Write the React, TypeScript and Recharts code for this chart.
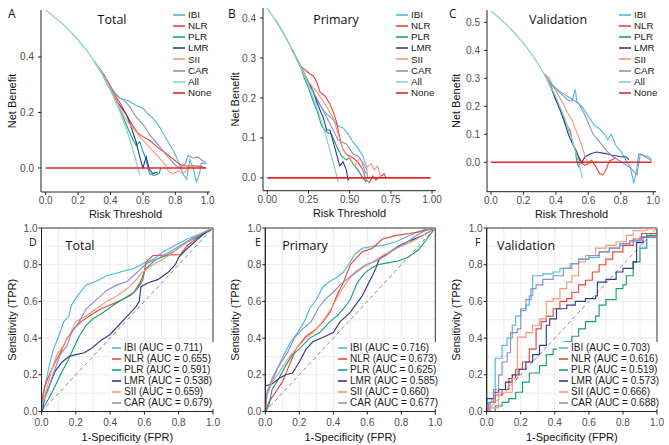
import React from 'react';
import { LineChart, Line, XAxis, YAxis, CartesianGrid, Label, ReferenceArea } from 'recharts';

type Pt = [number, number];

const SANS = 'Arial, "Liberation Sans", sans-serif';
const TITLE_FONT = '"Open Sans", "Noto Sans", sans-serif';

const MODELS = ['IBI', 'NLR', 'PLR', 'LMR', 'SII', 'CAR'];
const COLORS: Record<string, string> = {
  IBI: '#4DB9DE',
  NLR: '#EE4433',
  PLR: '#16A07E',
  LMR: '#2C3D8F',
  SII: '#F79677',
  CAR: '#8B90C6',
  All: '#8AD4C4',
  None: '#E8252A',
};

// ---- decision curves: [threshold, net benefit] ----
const ALL_A: Pt[] = [[0, 0.569], [0.05, 0.546], [0.1, 0.521], [0.15, 0.493], [0.2, 0.461], [0.25, 0.425], [0.3, 0.384], [0.35, 0.337], [0.4, 0.282], [0.45, 0.216], [0.5, 0.138], [0.55, 0.042], [0.58, -0.026]];
const IBI_A: Pt[] = [[0.3, 0.384], [0.35, 0.34], [0.4, 0.29], [0.43, 0.27], [0.46, 0.25], [0.5, 0.245], [0.53, 0.235], [0.56, 0.225], [0.6, 0.215], [0.63, 0.195], [0.66, 0.18], [0.7, 0.15], [0.73, 0.12], [0.76, 0.09], [0.79, 0.06], [0.81, 0.035], [0.83, 0.005], [0.85, -0.025], [0.87, -0.04], [0.89, 0.03], [0.91, 0.0], [0.93, -0.05], [0.95, -0.02], [0.96, 0.018], [0.99, 0.015]];
const NLR_A: Pt[] = [[0.3, 0.384], [0.35, 0.345], [0.4, 0.295], [0.43, 0.26], [0.46, 0.233], [0.5, 0.19], [0.54, 0.15], [0.57, 0.125], [0.6, 0.113], [0.64, 0.1], [0.67, 0.085], [0.7, 0.07], [0.75, 0.05], [0.79, 0.03], [0.83, 0.012], [0.87, 0.006], [0.92, 0.008], [0.96, 0.005], [0.99, 0.0]];
const PLR_A: Pt[] = [[0.35, 0.337], [0.4, 0.282], [0.44, 0.23], [0.48, 0.18], [0.51, 0.14], [0.54, 0.1], [0.56, 0.08], [0.58, 0.095], [0.6, 0.06], [0.62, 0.03], [0.64, -0.02], [0.67, -0.027], [0.7, -0.02], [0.71, 0.0]];
const LMR_A: Pt[] = [[0.35, 0.337], [0.4, 0.285], [0.44, 0.24], [0.47, 0.215], [0.5, 0.19], [0.52, 0.16], [0.54, 0.125], [0.56, 0.09], [0.58, 0.04], [0.6, 0.0], [0.62, 0.04], [0.64, -0.005], [0.66, -0.02], [0.69, -0.015]];
const SII_A: Pt[] = [[0.3, 0.384], [0.35, 0.34], [0.4, 0.29], [0.44, 0.24], [0.48, 0.19], [0.52, 0.155], [0.56, 0.13], [0.6, 0.1], [0.64, 0.075], [0.68, 0.05], [0.71, 0.03], [0.74, 0.01], [0.76, -0.015], [0.79, -0.02], [0.82, -0.01], [0.85, -0.02], [0.88, 0.0], [0.91, 0.005]];
const CAR_A: Pt[] = [[0.3, 0.384], [0.35, 0.34], [0.4, 0.28], [0.45, 0.255], [0.49, 0.24], [0.52, 0.22], [0.55, 0.19], [0.58, 0.17], [0.61, 0.15], [0.64, 0.12], [0.67, 0.1], [0.7, 0.08], [0.74, 0.05], [0.77, 0.03], [0.8, 0.01], [0.83, 0.0], [0.86, 0.015], [0.88, 0.045], [0.91, 0.035], [0.94, 0.04], [0.97, 0.025], [0.99, 0.02]];

const ALL_B: Pt[] = [[0, 0.424], [0.05, 0.394], [0.1, 0.36], [0.15, 0.322], [0.2, 0.28], [0.25, 0.232], [0.3, 0.177], [0.35, 0.114], [0.4, 0.04], [0.43, -0.01]];
const IBI_B: Pt[] = [[0.15, 0.322], [0.2, 0.28], [0.25, 0.24], [0.3, 0.195], [0.33, 0.175], [0.36, 0.16], [0.4, 0.145], [0.43, 0.13], [0.46, 0.125], [0.49, 0.11], [0.52, 0.09], [0.55, 0.075], [0.58, 0.055], [0.6, 0.03], [0.61, 0.0]];
const NLR_B: Pt[] = [[0.15, 0.322], [0.2, 0.28], [0.23, 0.27], [0.26, 0.26], [0.28, 0.255], [0.3, 0.24], [0.32, 0.215], [0.35, 0.205], [0.38, 0.185], [0.4, 0.165], [0.42, 0.14], [0.44, 0.1], [0.46, 0.07], [0.48, 0.06], [0.52, 0.05], [0.55, 0.04], [0.58, 0.02], [0.6, -0.005], [0.62, -0.012], [0.64, 0.005], [0.66, -0.005], [0.69, 0.005], [0.71, 0.01], [0.72, 0.0]];
const PLR_B: Pt[] = [[0.15, 0.322], [0.2, 0.28], [0.22, 0.255], [0.25, 0.225], [0.28, 0.19], [0.3, 0.17], [0.33, 0.13], [0.36, 0.115], [0.39, 0.11], [0.42, 0.08], [0.45, 0.055], [0.48, 0.045], [0.5, 0.05], [0.52, 0.035], [0.55, 0.02], [0.58, 0.0], [0.6, -0.01]];
const LMR_B: Pt[] = [[0.15, 0.322], [0.2, 0.28], [0.25, 0.24], [0.28, 0.215], [0.3, 0.19], [0.32, 0.17], [0.34, 0.15], [0.36, 0.12], [0.38, 0.12], [0.4, 0.09], [0.42, 0.06], [0.44, 0.03], [0.46, 0.04], [0.48, 0.02], [0.49, -0.005], [0.5, 0.0]];
const SII_B: Pt[] = [[0.15, 0.322], [0.2, 0.28], [0.25, 0.24], [0.3, 0.215], [0.35, 0.185], [0.4, 0.15], [0.43, 0.11], [0.46, 0.07], [0.5, 0.05], [0.53, 0.03], [0.56, 0.05], [0.6, 0.025], [0.63, 0.035], [0.65, 0.02], [0.67, 0.03], [0.69, 0.0]];
const CAR_B: Pt[] = [[0.05, 0.396], [0.1, 0.362], [0.15, 0.322], [0.2, 0.28], [0.25, 0.235], [0.3, 0.2], [0.35, 0.16], [0.4, 0.12], [0.43, 0.095], [0.45, 0.09], [0.48, 0.085], [0.52, 0.06], [0.55, 0.055], [0.57, 0.045], [0.59, 0.02], [0.6, 0.01]];

const ALL_C: Pt[] = [[0, 0.54], [0.05, 0.516], [0.1, 0.489], [0.15, 0.459], [0.2, 0.425], [0.25, 0.387], [0.3, 0.343], [0.35, 0.292], [0.4, 0.233], [0.45, 0.164], [0.5, 0.08], [0.53, 0.021], [0.565, -0.058]];
const IBI_C: Pt[] = [[0.33, 0.315], [0.38, 0.27], [0.42, 0.25], [0.45, 0.235], [0.48, 0.22], [0.5, 0.22], [0.52, 0.26], [0.53, 0.215], [0.56, 0.2], [0.6, 0.165], [0.64, 0.13], [0.67, 0.12], [0.7, 0.1], [0.72, 0.08], [0.74, 0.1], [0.77, 0.06], [0.8, 0.04], [0.83, 0.01], [0.86, -0.02], [0.88, -0.075], [0.9, -0.02], [0.91, 0.03], [0.94, 0.025], [0.97, 0.02], [0.99, 0.01]];
const NLR_C: Pt[] = [[0.33, 0.315], [0.37, 0.27], [0.4, 0.22], [0.43, 0.19], [0.46, 0.14], [0.49, 0.11], [0.5, 0.075], [0.53, 0.035], [0.55, 0.0], [0.58, -0.01], [0.6, -0.005], [0.62, 0.008], [0.65, -0.02], [0.67, -0.04], [0.69, -0.045], [0.71, -0.025], [0.73, 0.005], [0.75, 0.01], [0.77, 0.015]];
const PLR_C: Pt[] = [[0.35, 0.292], [0.4, 0.225], [0.44, 0.17], [0.47, 0.13], [0.5, 0.08], [0.52, 0.04], [0.53, 0.0], [0.54, -0.015], [0.55, 0.0]];
const LMR_C: Pt[] = [[0.33, 0.315], [0.37, 0.27], [0.4, 0.225], [0.43, 0.18], [0.46, 0.13], [0.48, 0.095], [0.5, 0.07], [0.52, 0.045], [0.54, 0.02], [0.56, 0.0], [0.58, 0.02], [0.61, 0.03], [0.65, 0.037], [0.7, 0.032], [0.75, 0.025], [0.8, 0.02], [0.83, 0.02], [0.85, 0.01]];
const SII_C: Pt[] = [[0.33, 0.315], [0.36, 0.3], [0.4, 0.255], [0.44, 0.215], [0.47, 0.18], [0.5, 0.15], [0.53, 0.105], [0.56, 0.06], [0.58, 0.02], [0.6, -0.005], [0.62, 0.0]];
const CAR_C: Pt[] = [[0.33, 0.315], [0.37, 0.28], [0.42, 0.255], [0.46, 0.24], [0.5, 0.225], [0.54, 0.21], [0.57, 0.18], [0.6, 0.14], [0.63, 0.1], [0.66, 0.08], [0.7, 0.05], [0.74, 0.025], [0.78, 0.01], [0.82, -0.005], [0.86, -0.02], [0.9, -0.045], [0.92, 0.03], [0.95, 0.02], [0.99, 0.005]];

const NONE_LINE: Pt[] = [[0, 0], [0.99, 0]];

// ---- ROC curves: [1 - specificity, sensitivity] ----
const D_IBI: Pt[] = [[0, 0], [0.01, 0.09], [0.03, 0.18], [0.05, 0.27], [0.07, 0.34], [0.1, 0.41], [0.13, 0.49], [0.16, 0.52], [0.175, 0.58], [0.21, 0.63], [0.26, 0.69], [0.32, 0.71], [0.38, 0.74], [0.46, 0.76], [0.54, 0.78], [0.59, 0.805], [0.65, 0.83], [0.71, 0.87], [0.77, 0.9], [0.85, 0.94], [0.93, 0.97], [1, 1]];
const D_NLR: Pt[] = [[0, 0], [0, 0.05], [0.02, 0.14], [0.05, 0.21], [0.08, 0.27], [0.11, 0.32], [0.15, 0.4], [0.19, 0.45], [0.23, 0.49], [0.28, 0.52], [0.34, 0.556], [0.4, 0.58], [0.46, 0.605], [0.52, 0.633], [0.56, 0.67], [0.59, 0.715], [0.61, 0.815], [0.65, 0.85], [0.81, 0.855], [0.85, 0.905], [0.93, 0.96], [1, 1]];
const D_PLR: Pt[] = [[0, 0], [0.03, 0.05], [0.07, 0.12], [0.11, 0.2], [0.15, 0.27], [0.185, 0.34], [0.22, 0.41], [0.26, 0.47], [0.3, 0.505], [0.36, 0.54], [0.42, 0.58], [0.48, 0.615], [0.54, 0.65], [0.575, 0.705], [0.61, 0.78], [0.67, 0.83], [0.73, 0.85], [0.77, 0.87], [0.85, 0.925], [0.93, 0.96], [1, 1]];
const D_LMR: Pt[] = [[0, 0], [0.01, 0.03], [0.02, 0.08], [0.05, 0.15], [0.08, 0.22], [0.12, 0.27], [0.16, 0.3], [0.2, 0.31], [0.25, 0.32], [0.3, 0.35], [0.35, 0.39], [0.4, 0.42], [0.45, 0.47], [0.5, 0.52], [0.55, 0.57], [0.57, 0.6], [0.58, 0.68], [0.62, 0.7], [0.68, 0.72], [0.74, 0.76], [0.78, 0.8], [0.8, 0.84], [0.84, 0.88], [0.9, 0.93], [0.95, 0.97], [1, 1]];
const D_SII: Pt[] = [[0, 0], [0, 0.03], [0.03, 0.12], [0.06, 0.23], [0.09, 0.31], [0.13, 0.36], [0.17, 0.43], [0.2, 0.49], [0.26, 0.52], [0.32, 0.56], [0.38, 0.6], [0.44, 0.63], [0.5, 0.67], [0.54, 0.705], [0.59, 0.76], [0.65, 0.8], [0.71, 0.83], [0.77, 0.87], [0.85, 0.925], [0.93, 0.97], [1, 1]];
const D_CAR: Pt[] = [[0, 0], [0.01, 0.05], [0.04, 0.12], [0.07, 0.21], [0.11, 0.31], [0.15, 0.36], [0.175, 0.43], [0.22, 0.49], [0.26, 0.56], [0.32, 0.61], [0.38, 0.66], [0.44, 0.69], [0.5, 0.71], [0.56, 0.76], [0.61, 0.805], [0.67, 0.83], [0.73, 0.86], [0.81, 0.905], [0.89, 0.95], [1, 1]];

const E_IBI: Pt[] = [[0, 0], [0.01, 0.09], [0.04, 0.16], [0.07, 0.23], [0.11, 0.31], [0.15, 0.38], [0.19, 0.43], [0.23, 0.49], [0.26, 0.56], [0.3, 0.61], [0.34, 0.68], [0.38, 0.71], [0.42, 0.73], [0.46, 0.76], [0.5, 0.815], [0.53, 0.86], [0.57, 0.89], [0.63, 0.9], [0.69, 0.905], [0.77, 0.925], [0.85, 0.96], [0.93, 0.99], [1, 1]];
const E_NLR: Pt[] = [[0, 0], [0.02, 0.05], [0.06, 0.105], [0.1, 0.16], [0.14, 0.25], [0.18, 0.34], [0.24, 0.41], [0.3, 0.45], [0.34, 0.49], [0.38, 0.54], [0.42, 0.63], [0.46, 0.705], [0.5, 0.8], [0.53, 0.83], [0.57, 0.87], [0.63, 0.89], [0.69, 0.94], [0.77, 0.96], [0.85, 0.97], [0.91, 0.98], [1, 1]];
const E_PLR: Pt[] = [[0, 0], [0.02, 0.03], [0.04, 0.12], [0.08, 0.18], [0.12, 0.25], [0.16, 0.31], [0.2, 0.34], [0.26, 0.4], [0.32, 0.43], [0.38, 0.49], [0.42, 0.52], [0.46, 0.56], [0.5, 0.61], [0.54, 0.7], [0.58, 0.75], [0.62, 0.78], [0.66, 0.8], [0.72, 0.81], [0.78, 0.82], [0.84, 0.84], [0.9, 0.88], [0.95, 0.94], [1, 1]];
const E_LMR: Pt[] = [[0, 0], [0, 0.14], [0.04, 0.15], [0.08, 0.18], [0.12, 0.2], [0.16, 0.21], [0.2, 0.27], [0.24, 0.34], [0.28, 0.38], [0.34, 0.405], [0.4, 0.43], [0.44, 0.49], [0.5, 0.54], [0.53, 0.58], [0.57, 0.63], [0.61, 0.705], [0.63, 0.74], [0.65, 0.78], [0.67, 0.83], [0.73, 0.87], [0.79, 0.905], [0.85, 0.93], [0.93, 0.96], [1, 1]];
const E_SII: Pt[] = [[0, 0], [0.01, 0.09], [0.04, 0.16], [0.08, 0.21], [0.12, 0.27], [0.16, 0.32], [0.2, 0.36], [0.24, 0.4], [0.28, 0.43], [0.32, 0.47], [0.36, 0.52], [0.4, 0.58], [0.44, 0.65], [0.48, 0.705], [0.51, 0.74], [0.57, 0.78], [0.63, 0.815], [0.69, 0.85], [0.77, 0.89], [0.85, 0.92], [0.93, 0.96], [1, 1]];
const E_CAR: Pt[] = [[0, 0], [0.01, 0.105], [0.04, 0.18], [0.08, 0.25], [0.13, 0.32], [0.17, 0.4], [0.22, 0.45], [0.27, 0.49], [0.31, 0.56], [0.35, 0.61], [0.4, 0.65], [0.44, 0.69], [0.48, 0.72], [0.53, 0.76], [0.59, 0.8], [0.65, 0.82], [0.71, 0.85], [0.77, 0.89], [0.83, 0.92], [0.89, 0.96], [0.95, 0.99], [1, 1]];

const F_IBI: Pt[] = [[0, 0], [0, 0.05], [0.03, 0.07], [0.05, 0.29], [0.08, 0.29], [0.09, 0.36], [0.12, 0.4], [0.15, 0.47], [0.17, 0.52], [0.2, 0.55], [0.23, 0.58], [0.25, 0.63], [0.27, 0.74], [0.33, 0.75], [0.39, 0.76], [0.43, 0.78], [0.49, 0.805], [0.54, 0.83], [0.6, 0.84], [0.66, 0.87], [0.72, 0.89], [0.78, 0.905], [0.84, 0.93], [0.9, 0.95], [0.94, 0.97], [1, 1]];
const F_NLR: Pt[] = [[0, 0], [0.02, 0.05], [0.05, 0.09], [0.09, 0.12], [0.13, 0.18], [0.17, 0.23], [0.21, 0.27], [0.25, 0.34], [0.29, 0.45], [0.32, 0.49], [0.35, 0.52], [0.39, 0.56], [0.43, 0.6], [0.47, 0.615], [0.5, 0.65], [0.54, 0.69], [0.58, 0.715], [0.62, 0.76], [0.66, 0.8], [0.7, 0.83], [0.74, 0.87], [0.8, 0.905], [0.86, 0.94], [0.91, 0.97], [1, 1]];
const F_PLR: Pt[] = [[0, 0], [0.04, 0], [0.05, 0.03], [0.09, 0.05], [0.13, 0.07], [0.17, 0.105], [0.21, 0.16], [0.25, 0.21], [0.31, 0.25], [0.35, 0.31], [0.39, 0.34], [0.45, 0.38], [0.5, 0.41], [0.54, 0.45], [0.58, 0.49], [0.64, 0.52], [0.66, 0.58], [0.7, 0.61], [0.76, 0.67], [0.8, 0.69], [0.82, 0.74], [0.86, 0.815], [0.9, 0.89], [0.94, 0.96], [1, 1]];
const F_LMR: Pt[] = [[0, 0], [0, 0.07], [0.04, 0.105], [0.07, 0.12], [0.11, 0.16], [0.15, 0.2], [0.19, 0.23], [0.23, 0.27], [0.27, 0.31], [0.31, 0.36], [0.35, 0.47], [0.37, 0.505], [0.41, 0.56], [0.47, 0.58], [0.52, 0.6], [0.58, 0.615], [0.64, 0.63], [0.65, 0.705], [0.7, 0.72], [0.76, 0.76], [0.8, 0.78], [0.86, 0.815], [0.88, 0.92], [0.92, 0.95], [1, 1]];
const F_SII: Pt[] = [[0, 0], [0.02, 0.02], [0.07, 0.105], [0.15, 0.18], [0.18, 0.405], [0.23, 0.43], [0.27, 0.47], [0.31, 0.505], [0.35, 0.6], [0.39, 0.615], [0.43, 0.67], [0.47, 0.705], [0.5, 0.74], [0.54, 0.815], [0.58, 0.85], [0.64, 0.89], [0.7, 0.905], [0.76, 0.925], [0.82, 0.96], [0.86, 0.985], [0.94, 0.995], [1, 1]];
const F_CAR: Pt[] = [[0, 0], [0.01, 0.05], [0.04, 0.12], [0.07, 0.2], [0.09, 0.27], [0.12, 0.32], [0.14, 0.43], [0.18, 0.45], [0.2, 0.56], [0.23, 0.61], [0.26, 0.67], [0.29, 0.69], [0.33, 0.72], [0.39, 0.74], [0.45, 0.78], [0.5, 0.805], [0.54, 0.83], [0.6, 0.85], [0.66, 0.87], [0.72, 0.89], [0.78, 0.915], [0.84, 0.93], [0.92, 0.95], [1, 1]];

const DIAGONAL: Pt[] = [[0, 0], [1, 1]];

const AUC_TOTAL = [0.711, 0.655, 0.591, 0.538, 0.659, 0.679];
const AUC_PRIMARY = [0.716, 0.673, 0.625, 0.585, 0.66, 0.677];
const AUC_VALID = [0.703, 0.616, 0.519, 0.573, 0.666, 0.688];

const TICKS_TENTHS = [0, 0.2, 0.4, 0.6, 0.8, 1];
const TICKS_QUARTERS = [0, 0.25, 0.5, 0.75, 1];
const Y_TICKS_A = [0, 0.2, 0.4];
const Y_TICKS_B = [0, 0.1, 0.2, 0.3, 0.4];
const Y_TICKS_C = [0, 0.1, 0.2, 0.3, 0.4, 0.5];
const ROC_MINOR = [0.1, 0.2, 0.3, 0.4, 0.5, 0.6, 0.7, 0.8, 0.9];

const pts = (arr: Pt[]) => arr.map(([x, y]) => ({ x, y }));

const TICK = { fontSize: 10, fill: '#4D4D4D', fontFamily: SANS };
const AXIS_LINE = { stroke: '#222', strokeWidth: 1 };

interface Curve { name: string; data: Pt[]; color: string; width: number }
interface Rect { l: number; t: number; r: number; b: number }

function dcaCurves(models: Pt[][], all: Pt[]): Curve[] {
  const list: Curve[] = models.map((d, i) => ({ name: MODELS[i], data: d, color: COLORS[MODELS[i]], width: 1.1 }));
  list.push({ name: 'All', data: all, color: COLORS.All, width: 1.3 });
  list.push({ name: 'None', data: NONE_LINE, color: COLORS.None, width: 1.6 });
  return list;
}

function rocCurves(models: Pt[][], aucs: number[]): Curve[] {
  return models.map((d, i) => ({
    name: `${MODELS[i]} (AUC = ${aucs[i].toFixed(3)})`,
    data: d,
    color: COLORS[MODELS[i]],
    width: 1.15,
  }));
}

function LegendBox({ left, top, items, swatch, step, fontSize, bg }: {
  left: number; top: number; items: Curve[]; swatch: number; step: number; fontSize: number; bg?: boolean;
}) {
  return (
    <div style={{
      position: 'absolute', left, top, background: bg ? '#fff' : 'transparent',
      padding: bg ? '1px 2px' : 0, fontFamily: SANS, fontSize, color: '#1a1a1a', lineHeight: 1,
    }}>
      {items.map((c) => (
        <div key={c.name} style={{ display: 'flex', alignItems: 'center', height: step, whiteSpace: 'nowrap' }}>
          <svg width={swatch} height={4} style={{ marginRight: 3 }}>
            <line x1={0} y1={2} x2={swatch} y2={2} stroke={c.color} strokeWidth={1.6} />
          </svg>
          <span>{c.name}</span>
        </div>
      ))}
    </div>
  );
}

function Caption({ x, y, text, size, center }: { x: number; y: number; text: string; size: number; center?: boolean }) {
  return (
    <div style={{
      position: 'absolute', left: x, top: y, transform: center ? 'translate(-50%, -50%)' : 'translate(0, -50%)',
      fontFamily: TITLE_FONT, fontSize: size, color: '#111', whiteSpace: 'nowrap', lineHeight: 1,
    }}>{text}</div>
  );
}

function DcaPanel({ x, y, plot, xDomain, yDomain, xTicks, yTicks, xDigits, yDigits, curves, title, titleX, letter, letterX, yLabelX }: {
  x: number; y: number; plot: Rect; xDomain: [number, number]; yDomain: [number, number];
  xTicks: number[]; yTicks: number[]; xDigits: number; yDigits: number; curves: Curve[];
  title: string; titleX: number; letter: string; letterX: number; yLabelX: number;
}) {
  const W = 223, H = 222, YW = 30, XH = 26;
  const margin = { top: plot.t, right: W - plot.r, left: plot.l - YW, bottom: H - plot.b - XH };
  return (
    <div style={{ position: 'absolute', left: x, top: y, width: W, height: H }}>
      <LineChart width={W} height={H} margin={margin}>
        <XAxis type="number" dataKey="x" domain={xDomain} ticks={xTicks} allowDataOverflow interval={0} height={XH}
          tickFormatter={(v: number) => v.toFixed(xDigits)} tick={TICK} tickSize={3} tickLine={AXIS_LINE} axisLine={AXIS_LINE}>
          <Label value="Risk Threshold" position="insideBottom" offset={0} fontSize={11} fill="#111" fontFamily={SANS} />
        </XAxis>
        <YAxis type="number" domain={yDomain} ticks={yTicks} allowDataOverflow interval={0} width={YW} tickMargin={4}
          tickFormatter={(v: number) => v.toFixed(yDigits)} tick={TICK} tickSize={3} tickLine={AXIS_LINE} axisLine={AXIS_LINE}>
          <Label value="Net Benefit" angle={-90} position="insideLeft" offset={yLabelX - (plot.l - YW)}
            fontSize={11} fill="#111" fontFamily={SANS} style={{ textAnchor: 'middle' }} />
        </YAxis>
        {curves.map((c) => (
          <Line key={c.name} data={pts(c.data)} dataKey="y" type="linear" stroke={c.color} strokeWidth={c.width}
            dot={false} activeDot={false} isAnimationActive={false} />
        ))}
      </LineChart>
      <Caption x={titleX} y={20} text={title} size={12.5} center />
      <Caption x={letterX} y={14} text={letter} size={12} />
      <LegendBox left={173} top={9.5} items={curves} swatch={12} step={11.1} fontSize={9.8} />
    </div>
  );
}

function RocPanel({ x, y, plot, curves, title, titleX, letter, letterX, legendX, yLabelX, stepped }: {
  x: number; y: number; plot: Rect; curves: Curve[]; title: string; titleX: number;
  letter: string; letterX: number; legendX: number; yLabelX: number; stepped?: boolean;
}) {
  const W = 223, H = 223, YW = 30, XH = 29;
  const margin = { top: plot.t, right: W - plot.r, left: plot.l - YW, bottom: H - plot.b - XH };
  return (
    <div style={{ position: 'absolute', left: x, top: y, width: W, height: H }}>
      <LineChart width={W} height={H} margin={margin}>
        <CartesianGrid stroke="#E6E6E6" strokeWidth={0.8}
          verticalCoordinatesGenerator={({ offset }: any) => ROC_MINOR.map((v) => offset.left + v * offset.width)}
          horizontalCoordinatesGenerator={({ offset }: any) => ROC_MINOR.map((v) => offset.top + (1 - v) * offset.height)} />
        <XAxis type="number" dataKey="x" domain={[0, 1]} ticks={TICKS_TENTHS} allowDataOverflow interval={0} height={XH}
          tickFormatter={(v: number) => v.toFixed(1)} tick={TICK} tickSize={3} tickMargin={4} tickLine={AXIS_LINE} axisLine={AXIS_LINE}>
          <Label value="1-Specificity (FPR)" position="insideBottom" offset={0} fontSize={11} fill="#111" fontFamily={SANS} />
        </XAxis>
        <YAxis type="number" domain={[0, 1]} ticks={TICKS_TENTHS} allowDataOverflow interval={0} width={YW} tickMargin={1}
          tickFormatter={(v: number) => v.toFixed(1)} tick={TICK} tickSize={3} tickLine={AXIS_LINE} axisLine={AXIS_LINE}>
          <Label value="Sensitivity (TPR)" angle={-90} position="insideLeft" offset={yLabelX - (plot.l - YW)}
            fontSize={11} fill="#111" fontFamily={SANS} style={{ textAnchor: 'middle' }} />
        </YAxis>
        <ReferenceArea x1={0} x2={1} y1={0} y2={1} fill="none" fillOpacity={0} stroke="#333" strokeWidth={1} />
        <Line data={pts(DIAGONAL)} dataKey="y" type="linear" stroke="#8A8A8A" strokeWidth={1} strokeDasharray="4 3"
          dot={false} activeDot={false} isAnimationActive={false} legendType="none" />
        {curves.map((c) => (
          <Line key={c.name} data={pts(c.data)} dataKey="y" type={stepped ? 'stepAfter' : 'linear'} stroke={c.color}
            strokeWidth={c.width} dot={false} activeDot={false} isAnimationActive={false} />
        ))}
      </LineChart>
      <Caption x={titleX} y={24} text={title} size={12.5} center />
      <Caption x={letterX} y={19.5} text={letter} size={10.5} />
      <LegendBox left={legendX} top={120} items={curves} swatch={9} step={10.92} fontSize={10} bg />
    </div>
  );
}

export default function App() {
  return (
    <div style={{ position: 'absolute', left: 0, top: 0, width: 669, height: 445, background: '#fff', overflow: 'hidden' }}>
      <DcaPanel x={0} y={0} plot={{ l: 41, t: 10, r: 210, b: 192 }} xDomain={[-0.029, 1.014]} yDomain={[-0.0865, 0.569]}
        xTicks={TICKS_TENTHS} yTicks={Y_TICKS_A} xDigits={1} yDigits={1}
        curves={dcaCurves([IBI_A, NLR_A, PLR_A, LMR_A, SII_A, CAR_A], ALL_A)}
        title="Total" titleX={112} letter="A" letterX={8} yLabelX={12} />
      <DcaPanel x={223} y={0} plot={{ l: 40, t: 8, r: 213, b: 190.7 }} xDomain={[-0.026, 1.024]} yDomain={[-0.032, 0.425]}
        xTicks={TICKS_QUARTERS} yTicks={Y_TICKS_B} xDigits={2} yDigits={1}
        curves={dcaCurves([IBI_B, NLR_B, PLR_B, LMR_B, SII_B, CAR_B], ALL_B)}
        title="Primary" titleX={113} letter="B" letterX={5} yLabelX={12} />
      <DcaPanel x={446} y={0} plot={{ l: 41, t: 10, r: 210, b: 191.7 }} xDomain={[-0.0246, 1.017]} yDomain={[-0.105, 0.544]}
        xTicks={TICKS_TENTHS} yTicks={Y_TICKS_C} xDigits={1} yDigits={1}
        curves={dcaCurves([IBI_C, NLR_C, PLR_C, LMR_C, SII_C, CAR_C], ALL_C)}
        title="Validation" titleX={112} letter="C" letterX={3} yLabelX={10} />

      <RocPanel x={0} y={222} plot={{ l: 41.5, t: 6, r: 213, b: 189.5 }}
        curves={rocCurves([D_IBI, D_NLR, D_PLR, D_LMR, D_SII, D_CAR], AUC_TOTAL)}
        title="Total" titleX={80} letter="D" letterX={29} legendX={110} yLabelX={12} />
      <RocPanel x={223} y={222} plot={{ l: 42.3, t: 6, r: 212.3, b: 189.5 }}
        curves={rocCurves([E_IBI, E_NLR, E_PLR, E_LMR, E_SII, E_CAR], AUC_PRIMARY)}
        title="Primary" titleX={82} letter="E" letterX={32} legendX={113} yLabelX={12} />
      <RocPanel x={446} y={222} plot={{ l: 40.7, t: 6, r: 211, b: 189.5 }}
        curves={rocCurves([F_IBI, F_NLR, F_PLR, F_LMR, F_SII, F_CAR], AUC_VALID)}
        title="Validation" titleX={80} letter="F" letterX={29} legendX={111} yLabelX={10} stepped />
    </div>
  );
}
